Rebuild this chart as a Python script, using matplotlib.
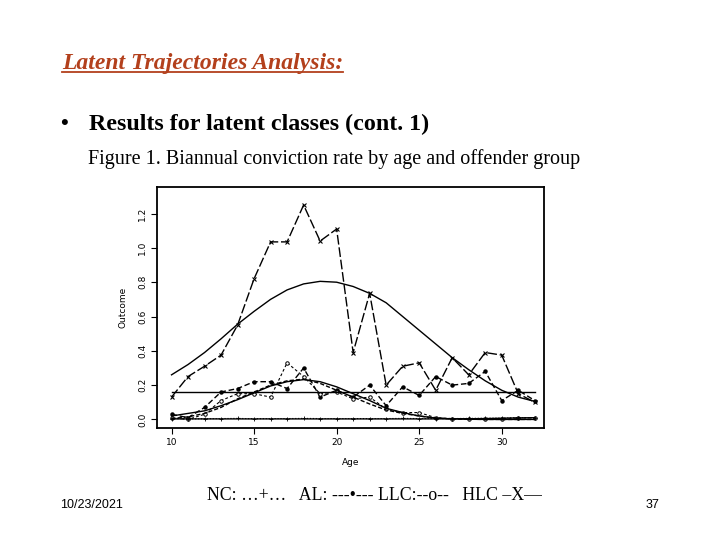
import numpy as np
import matplotlib
matplotlib.use('Agg')
import matplotlib.pyplot as plt

# ages 10..32
age = list(range(10, 33))

hlc_obs = [0.13, 0.25, 0.31, 0.375, 0.55, 0.82, 1.035, 1.035, 1.25, 1.04, 1.11, 0.39,
           0.735, 0.20, 0.31, 0.33, 0.17, 0.36, 0.26, 0.39, 0.375, 0.15, 0.10]
al_obs = [0.03, 0.01, 0.07, 0.16, 0.18, 0.22, 0.22, 0.18, 0.30, 0.13, 0.17, 0.13,
          0.20, 0.08, 0.19, 0.14, 0.25, 0.20, 0.21, 0.28, 0.11, 0.17, 0.11]
llc_obs = [0.01, 0.0, 0.03, 0.11, 0.15, 0.15, 0.13, 0.33, 0.25, 0.15, 0.16, 0.12,
           0.13, 0.06, 0.04, 0.04, 0.01, 0.005, 0.003, 0.003, 0.005, 0.008, 0.01]
nc_obs = [0.005, 0.003, 0.004, 0.005, 0.006, 0.004, 0.005, 0.005, 0.006, 0.005, 0.005, 0.005,
          0.005, 0.005, 0.006, 0.005, 0.005, 0.005, 0.006, 0.007, 0.008, 0.01, 0.01]

# fitted curves
hlc_fit = [0.26, 0.32, 0.39, 0.47, 0.555, 0.63, 0.70, 0.755, 0.79, 0.805, 0.80, 0.775,
           0.735, 0.68, 0.60, 0.52, 0.44, 0.36, 0.29, 0.225, 0.17, 0.13, 0.105]
al_fit = [0.02, 0.035, 0.05, 0.08, 0.115, 0.155, 0.195, 0.22, 0.232, 0.22, 0.19, 0.15,
          0.11, 0.065, 0.04, 0.02, 0.008, 0.003, 0.001, 0.0, 0.0, 0.0, 0.0]
llc_fit = [0.005, 0.015, 0.035, 0.07, 0.12, 0.16, 0.20, 0.225, 0.235, 0.21, 0.17, 0.13,
           0.09, 0.055, 0.035, 0.02, 0.008, 0.003, 0.001, 0.0, 0.0, 0.0, 0.0]
nc_fit = [0.003, 0.003, 0.003, 0.003, 0.003, 0.003, 0.003, 0.003, 0.003, 0.003, 0.003, 0.003,
          0.003, 0.003, 0.003, 0.003, 0.003, 0.004, 0.004, 0.005, 0.007, 0.009, 0.01]
flat_level = 0.16

xticks = [10, 15, 20, 25, 30]
yticks = [0.0, 0.2, 0.4, 0.6, 0.8, 1.0, 1.2]

fig = plt.figure(figsize=(7.2, 5.4), dpi=100)
fig.patch.set_facecolor('white')

# slide texts
serif = 'Liberation Serif'
t = fig.text(62/720, 1-63/540, 'Latent Trajectories Analysis:', family=serif, fontsize=17,
             fontweight='bold', style='italic', color='#B3401C', va='center', ha='left')
fig.text(60/720, 1-124/540, '\u2022', family=serif, fontsize=16, fontweight='bold', va='center')
fig.text(89/720, 1-124/540, 'Results for latent classes (cont. 1)', family=serif, fontsize=17.3,
         fontweight='bold', va='center', ha='left')
fig.text(88/720, 1-159/540, 'Figure 1. Biannual conviction rate by age and offender group', family=serif,
         fontsize=14.5, va='center', ha='left')
fig.text(207/720, 1-496/540, 'NC: \u2026+\u2026   AL: ---\u2022--- LLC:--o--   HLC \u2013X\u2014', family=serif,
         fontsize=12.8, va='center', ha='left')
fig.text(60/720, 1-505/540, '10/23/2021', family='Liberation Sans', fontsize=9, va='center', ha='left')
fig.text(652/720, 1-505/540, '37', family='Liberation Sans', fontsize=9, va='center', ha='center')

ax = fig.add_axes([157/720, 1-428/540, 387/720, 241/540])
lw = 1.0
ax.plot(age, hlc_obs, color='black', lw=lw, ls=(0, (7, 2)), marker='x', ms=3, mew=0.8)
ax.plot(age, al_obs, color='black', lw=lw, ls=(0, (4, 2)), marker='o', ms=2.2)
ax.plot(age, llc_obs, color='black', lw=0.8, ls=(0, (2.5, 2)), marker='o', ms=2.5, mfc='white', mew=0.7)
ax.plot(age, nc_obs, color='black', lw=0.8, ls=':', marker='+', ms=3, mew=0.6)

ax.plot(age, hlc_fit, color='black', lw=lw)
ax.plot(age, al_fit, color='black', lw=lw)
ax.plot(age, llc_fit, color='black', lw=lw, ls=(0, (3, 1.5)))
ax.plot(age, nc_fit, color='black', lw=lw)
ax.plot([age[0], age[-1]], [flat_level, flat_level], color='black', lw=lw)

ax.set_xlim(9.12, 32.56)
ax.set_ylim(-0.05, 1.355)
ax.set_xticks(xticks)
ax.set_yticks(yticks)
ax.set_yticklabels(['%.1f' % v for v in yticks], rotation=90, va='center')
ax.tick_params(labelsize=6.5, length=4, width=0.8, direction='out', pad=3)
ax.set_xlabel('Age', fontsize=6.5, labelpad=8)
ax.set_ylabel('Outcome', fontsize=6.5, labelpad=8)
for s in ax.spines.values():
    s.set_linewidth(1.3)

# underline the heading
fig.canvas.draw()
bb = t.get_window_extent().transformed(fig.transFigure.inverted())
fig.add_artist(plt.Line2D([bb.x0, bb.x1], [bb.y0 + 0.003, bb.y0 + 0.003], color='#B3401C', lw=1.3))

fig.savefig('out.png', dpi=100)
